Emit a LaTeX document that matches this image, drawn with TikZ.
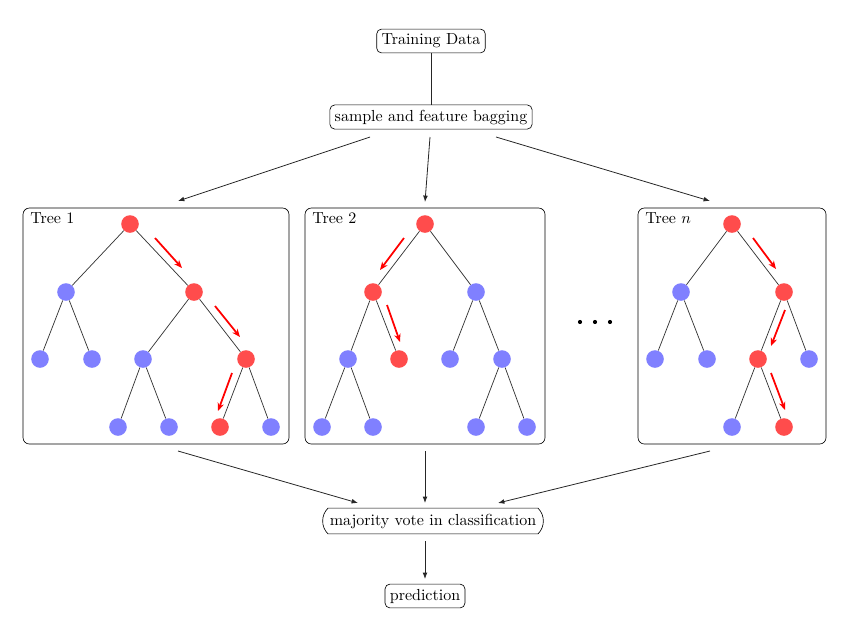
\documentclass[tikz,border=0pt]{standalone}
\usetikzlibrary{arrows.meta,fit,shapes.misc}
\begin{document}
\begin{tikzpicture}[x=0.625pt,y=-0.625pt,
  box/.style={draw, rounded corners=3pt, inner sep=3pt, fill=white},
  treebox/.style={draw, rounded corners=4pt, inner sep=0pt},
  rn/.style={circle, fill=red!70, inner sep=0pt, minimum size=11pt},
  bn/.style={circle, fill=blue!50, inner sep=0pt, minimum size=11pt},
  edge/.style={draw=black!80, line width=0.45pt},
  flow/.style={-{Latex[length=4pt,width=3pt]}, line width=0.5pt, draw=black!85},
  route/.style={red, line width=1.1pt, -{Stealth[length=5pt,width=4pt,inset=1.5pt]}},
  dot/.style={circle, fill=black, inner sep=0pt, minimum size=2.6pt}]
\useasboundingbox (0,0) rectangle (861,625);

% pipeline boxes
\node[box] (data) at (431,41) {Training Data};
\node[box] (bag) at (431,117) {sample and feature bagging};
\node[draw, rounded rectangle, rounded rectangle arc length=90, inner sep=3.5pt] (vote) at (433,521) {majority vote in classification};
\node[box] (pred) at (425,596) {prediction};

% tree frames
\node[treebox, fit={(23,208) (289,444)}] (f1) {};
\node[treebox, fit={(305,208) (545,444)}] (f2) {};
\node[treebox, fit={(638,208) (826,444)}] (fn) {};
\node[anchor=north west, inner sep=0pt] (l1) at (30,212) {Tree 1};
\node[anchor=north west, inner sep=0pt] (l2) at (312,212) {Tree 2};
\node[anchor=north west, inner sep=0pt] (ln) at (645,212) {Tree $n$};

% tree 1
\node[rn] (a0) at (130,224) {};
\node[bn] (a1) at (66,292) {};
\node[rn] (a2) at (194,292) {};
\node[bn] (a3) at (40,359) {};
\node[bn] (a4) at (92,359) {};
\node[bn] (a5) at (143,359) {};
\node[rn] (a6) at (246,359) {};
\node[bn] (a7) at (118,427) {};
\node[bn] (a8) at (169,427) {};
\node[rn] (a9) at (220,427) {};
\node[bn] (a10) at (271,427) {};
\foreach \p/\c in {a0/a1,a0/a2,a1/a3,a1/a4,a2/a5,a2/a6,a5/a7,a5/a8,a6/a9,a6/a10}
  \draw[edge] (\p) -- (\c);

% tree 2
\node[rn] (b0) at (425,224) {};
\node[rn] (b1) at (373,292) {};
\node[bn] (b2) at (476,292) {};
\node[bn] (b3) at (348,359) {};
\node[rn] (b4) at (399,359) {};
\node[bn] (b5) at (450,359) {};
\node[bn] (b6) at (502,359) {};
\node[bn] (b7) at (322,427) {};
\node[bn] (b8) at (373,427) {};
\node[bn] (b9) at (476,427) {};
\node[bn] (b10) at (527,427) {};
\foreach \p/\c in {b0/b1,b0/b2,b1/b3,b1/b4,b2/b5,b2/b6,b3/b7,b3/b8,b6/b9,b6/b10}
  \draw[edge] (\p) -- (\c);

% tree n
\node[rn] (c0) at (732,224) {};
\node[bn] (c1) at (681,292) {};
\node[rn] (c2) at (784,292) {};
\node[bn] (c3) at (655,359) {};
\node[bn] (c4) at (707,359) {};
\node[rn] (c5) at (758,359) {};
\node[bn] (c6) at (809,359) {};
\node[bn] (c7) at (732,427) {};
\node[rn] (c8) at (784,427) {};
\foreach \p/\c in {c0/c1,c0/c2,c1/c3,c1/c4,c2/c5,c2/c6,c5/c7,c5/c8}
  \draw[edge] (\p) -- (\c);

% decision paths
\draw[route] (155,238) -- (182,268);
\draw[route] (215,306) -- (240,337);
\draw[route] (232,373) -- (218,411);
\draw[route] (404,238) -- (380,270);
\draw[route] (387,305) -- (400,342);
\draw[route] (753,238) -- (776,269);
\draw[route] (785,310) -- (771,346);
\draw[route] (771,373) -- (785,410);

% ellipsis between trees
\node[dot] (d1) at (580,322) {};
\node[dot] (d2) at (595,322) {};
\node[dot] (d3) at (610,322) {};

% connectors
\coordinate (s1) at (370,137);
\coordinate (s2) at (430,137);
\coordinate (s3) at (496,137);
\coordinate (e1) at (178,201);
\coordinate (e2) at (425,202);
\coordinate (e3) at (710,201);
\coordinate (o1) at (178,451);
\coordinate (o2) at (425,451);
\coordinate (o3) at (710,451);
\coordinate (v1) at (358,503);
\coordinate (v2) at (425,503);
\coordinate (v3) at (498,503);
\coordinate (vo) at (425,541);
\coordinate (pi) at (425,579);
\draw[line width=0.5pt, draw=black!85] (data) -- (bag);
\draw[flow] (s1) -- (e1);
\draw[flow] (s2) -- (e2);
\draw[flow] (s3) -- (e3);
\draw[flow] (o1) -- (v1);
\draw[flow] (o2) -- (v2);
\draw[flow] (o3) -- (v3);
\draw[flow] (vo) -- (pi);
\end{tikzpicture}
\end{document}
